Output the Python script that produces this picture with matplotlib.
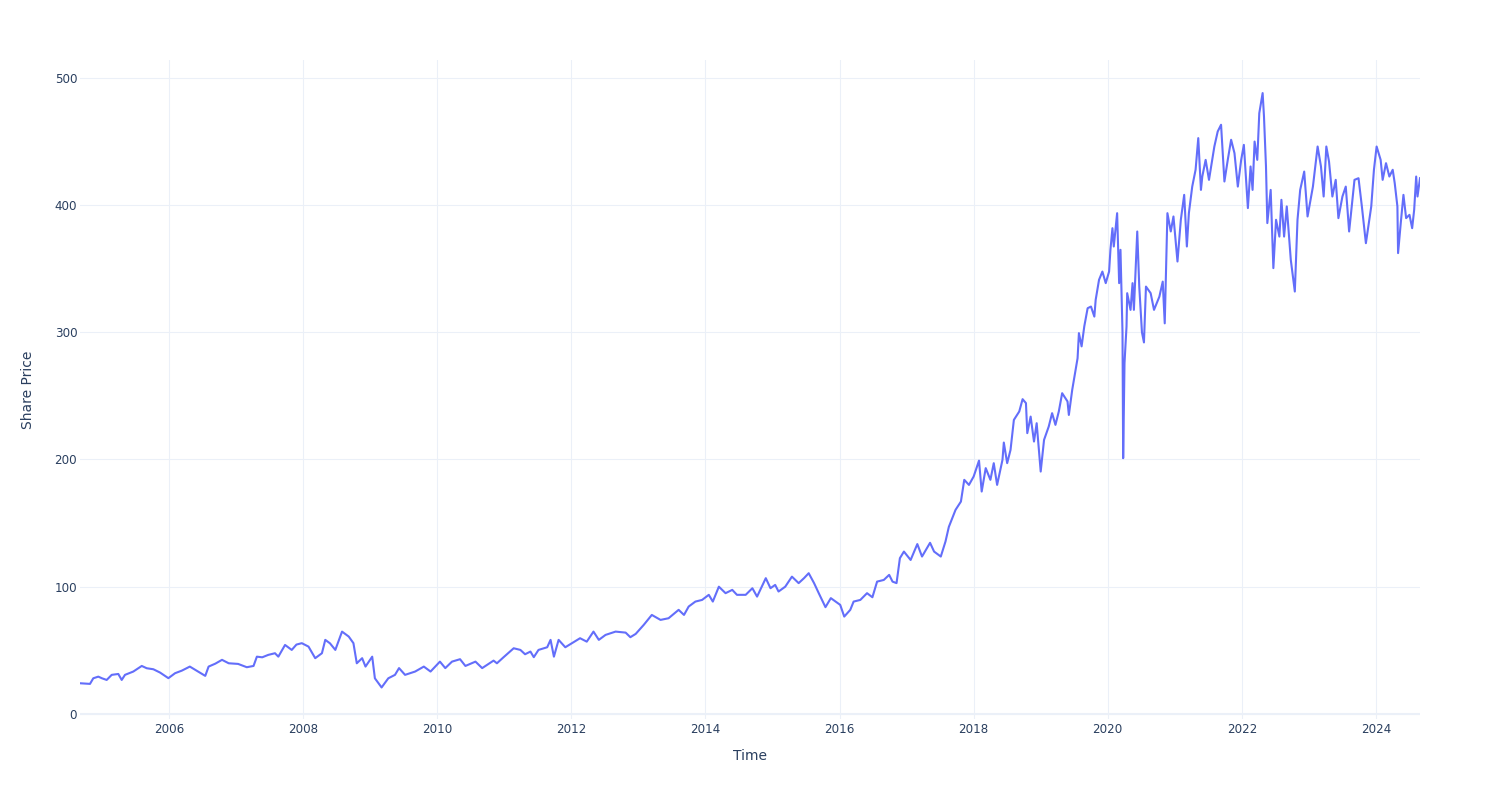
import matplotlib
matplotlib.use("Agg")
import matplotlib.pyplot as plt

# Time in decimal years, share price values
years = [
    2004.672, 2004.761, 2004.821, 2004.870, 2004.945, 2005.000, 2005.070, 2005.145, 2005.243, 2005.294,
    2005.343, 2005.467, 2005.593, 2005.667, 2005.766, 2005.866, 2005.990, 2006.090, 2006.190, 2006.310,
    2006.410, 2006.540, 2006.590, 2006.690, 2006.790, 2006.890, 2007.030, 2007.160, 2007.260, 2007.310,
    2007.390, 2007.480, 2007.580, 2007.630, 2007.730, 2007.830, 2007.900, 2007.980, 2008.080, 2008.180,
    2008.280, 2008.330, 2008.400, 2008.480, 2008.580, 2008.680, 2008.750, 2008.800, 2008.880, 2008.930,
    2009.030, 2009.070, 2009.170, 2009.270, 2009.370, 2009.430, 2009.520, 2009.670, 2009.800, 2009.900,
    2010.040, 2010.120, 2010.220, 2010.340, 2010.420, 2010.570, 2010.670, 2010.840, 2010.890, 2010.990,
    2011.140, 2011.240, 2011.310, 2011.390, 2011.440, 2011.510, 2011.640, 2011.690, 2011.740, 2011.810,
    2011.910, 2012.010, 2012.130, 2012.230, 2012.330, 2012.410, 2012.510, 2012.660, 2012.810, 2012.880,
    2012.960, 2013.080, 2013.200, 2013.330, 2013.450, 2013.600, 2013.680, 2013.750, 2013.850, 2013.950,
    2014.050, 2014.110, 2014.200, 2014.300, 2014.400, 2014.470, 2014.600, 2014.700, 2014.770, 2014.900,
    2014.970, 2015.040, 2015.090, 2015.190, 2015.290, 2015.390, 2015.470, 2015.540, 2015.620, 2015.690,
    2015.790, 2015.870, 2015.940, 2016.010, 2016.070, 2016.160, 2016.210, 2016.310, 2016.410, 2016.490,
    2016.560, 2016.660, 2016.740, 2016.790, 2016.850, 2016.900, 2016.960, 2017.060, 2017.160, 2017.230,
    2017.350, 2017.410, 2017.510, 2017.580, 2017.630, 2017.730, 2017.810, 2017.860, 2017.930, 2018.000,
    2018.080, 2018.120, 2018.180, 2018.250, 2018.300, 2018.350, 2018.430, 2018.450, 2018.500, 2018.550,
    2018.600, 2018.680, 2018.730, 2018.780, 2018.800, 2018.850, 2018.900, 2018.940, 2019.000, 2019.050,
    2019.120, 2019.170, 2019.220, 2019.270, 2019.320, 2019.400, 2019.420, 2019.470, 2019.520, 2019.550,
    2019.570, 2019.610, 2019.650, 2019.700, 2019.750, 2019.800, 2019.820, 2019.870, 2019.920, 2019.970,
    2020.020, 2020.040, 2020.070, 2020.090, 2020.140, 2020.170, 2020.190, 2020.220, 2020.230, 2020.250,
    2020.280, 2020.290, 2020.340, 2020.370, 2020.390, 2020.440, 2020.470, 2020.510, 2020.540, 2020.570,
    2020.640, 2020.690, 2020.770, 2020.820, 2020.850, 2020.890, 2020.940, 2020.980, 2021.040, 2021.090,
    2021.140, 2021.180, 2021.210, 2021.260, 2021.310, 2021.350, 2021.390, 2021.410, 2021.460, 2021.510,
    2021.590, 2021.640, 2021.690, 2021.740, 2021.790, 2021.840, 2021.890, 2021.940, 2021.990, 2022.030,
    2022.090, 2022.130, 2022.160, 2022.190, 2022.230, 2022.260, 2022.310, 2022.330, 2022.360, 2022.380,
    2022.430, 2022.470, 2022.510, 2022.560, 2022.590, 2022.630, 2022.670, 2022.730, 2022.790, 2022.830,
    2022.870, 2022.930, 2022.980, 2023.060, 2023.130, 2023.180, 2023.220, 2023.260, 2023.300, 2023.350,
    2023.400, 2023.440, 2023.500, 2023.550, 2023.600, 2023.680, 2023.740, 2023.790, 2023.850, 2023.930,
    2023.970, 2024.010, 2024.070, 2024.100, 2024.150, 2024.200, 2024.250, 2024.280, 2024.320, 2024.330,
    2024.370, 2024.410, 2024.450, 2024.500, 2024.540, 2024.570, 2024.600, 2024.620, 2024.657,
]

share_price = [
    24.1, 23.8, 23.6, 28.0, 29.3, 28.0, 26.7, 30.7, 31.4, 26.7,
    30.7, 33.3, 37.7, 35.9, 35.1, 32.5, 28.1, 32.0, 34.0, 37.2,
    34.0, 29.9, 37.2, 39.5, 42.5, 39.8, 39.3, 36.7, 37.7, 45.0,
    44.5, 46.4, 47.7, 45.0, 54.2, 50.3, 54.5, 55.6, 52.9, 43.8,
    47.7, 58.2, 55.5, 50.3, 64.7, 60.8, 55.6, 39.8, 43.8, 37.2,
    45.0, 28.0, 20.8, 28.0, 30.7, 36.0, 30.7, 33.3, 37.2, 33.3,
    41.1, 36.0, 41.1, 43.0, 37.7, 41.1, 36.0, 41.9, 39.8, 44.6,
    51.6, 50.3, 46.9, 49.0, 44.6, 50.3, 52.4, 58.2, 45.0, 58.2,
    52.4, 55.6, 59.5, 56.8, 64.7, 58.2, 62.1, 64.7, 63.9, 60.3,
    62.9, 70.0, 77.8, 73.9, 75.2, 81.8, 77.8, 84.4, 88.3, 89.6,
    93.6, 88.3, 100.0, 94.9, 97.5, 93.6, 93.6, 98.8, 92.2, 106.7,
    98.8, 101.4, 96.2, 100.0, 107.9, 102.8, 106.7, 110.6, 102.8, 94.9,
    83.9, 91.0, 88.3, 85.7, 76.5, 81.8, 88.3, 89.6, 94.9, 91.7,
    104.0, 105.3, 109.3, 104.0, 102.8, 122.4, 127.6, 121.0, 133.5, 123.7,
    134.5, 127.6, 123.7, 135.5, 147.0, 160.4, 166.9, 184.0, 180.0, 186.6,
    199.1, 174.8, 193.2, 184.0, 197.1, 180.0, 199.7, 213.3, 197.1, 207.5,
    231.1, 237.7, 247.4, 244.3, 220.7, 233.7, 214.1, 228.5, 190.5, 215.4,
    225.9, 236.4, 227.2, 237.7, 252.1, 245.6, 235.0, 254.7, 270.4, 279.6,
    299.3, 288.9, 304.6, 318.9, 320.2, 312.3, 325.5, 341.2, 347.7, 338.6,
    347.7, 364.8, 381.8, 367.4, 393.6, 338.6, 364.8, 300.0, 201.0, 275.7,
    304.6, 330.7, 317.6, 338.6, 317.6, 379.2, 335.9, 300.0, 292.0, 335.9,
    330.7, 317.6, 328.0, 339.8, 307.0, 393.6, 379.2, 391.0, 355.6, 388.4,
    408.0, 367.4, 393.6, 414.5, 427.7, 452.6, 411.9, 422.4, 435.5, 419.8,
    446.0, 457.8, 463.1, 418.5, 435.5, 451.3, 440.8, 414.5, 435.5, 447.3,
    397.6, 430.3, 411.9, 449.9, 435.5, 472.2, 488.0, 469.7, 430.3, 385.8,
    411.9, 350.4, 388.4, 375.2, 404.1, 375.2, 398.9, 356.9, 332.0, 388.4,
    411.9, 426.3, 391.0, 414.5, 446.0, 430.3, 406.7, 446.0, 434.2, 406.7,
    419.8, 389.7, 406.7, 414.5, 379.2, 419.8, 421.1, 398.9, 370.0, 398.9,
    427.7, 446.0, 435.5, 419.8, 432.9, 422.4, 427.7, 417.2, 398.9, 362.2,
    385.8, 408.0, 389.7, 392.3, 381.8, 396.2, 422.4, 406.7, 421.1,
]

x_ticks = [2006, 2008, 2010, 2012, 2014, 2016, 2018, 2020, 2022, 2024]
y_ticks = [0, 100, 200, 300, 400, 500]

TEXT = "#2a3f5f"
GRID = "#EBF0F8"
LINE = "#636efa"

fig = plt.figure(figsize=(15, 8), dpi=100)
ax = fig.add_axes([80 / 1500, 1 - 719 / 800, 1340 / 1500, 659 / 800])

ax.plot(years, share_price, color=LINE, linewidth=1.5, zorder=3)

ax.set_xlim(years[0], years[-1])
ax.set_ylim(-4, 514)
ax.set_xticks(x_ticks)
ax.set_xticklabels([str(t) for t in x_ticks])
ax.set_yticks(y_ticks)
ax.set_yticklabels([str(t) for t in y_ticks])

ax.grid(True, color=GRID, linewidth=0.75, zorder=0)
ax.axhline(0, color=GRID, linewidth=1.5, zorder=1)
for s in ax.spines.values():
    s.set_visible(False)
ax.tick_params(axis="both", length=0, labelsize=8.6, colors=TEXT)
ax.tick_params(axis="x", pad=3)
ax.tick_params(axis="y", pad=2)

ax.set_xlabel("Time", fontsize=10, color=TEXT, labelpad=9)
ax.set_ylabel("Share Price", fontsize=10, color=TEXT, labelpad=14)

fig.savefig("out.png", dpi=100, facecolor="white")
